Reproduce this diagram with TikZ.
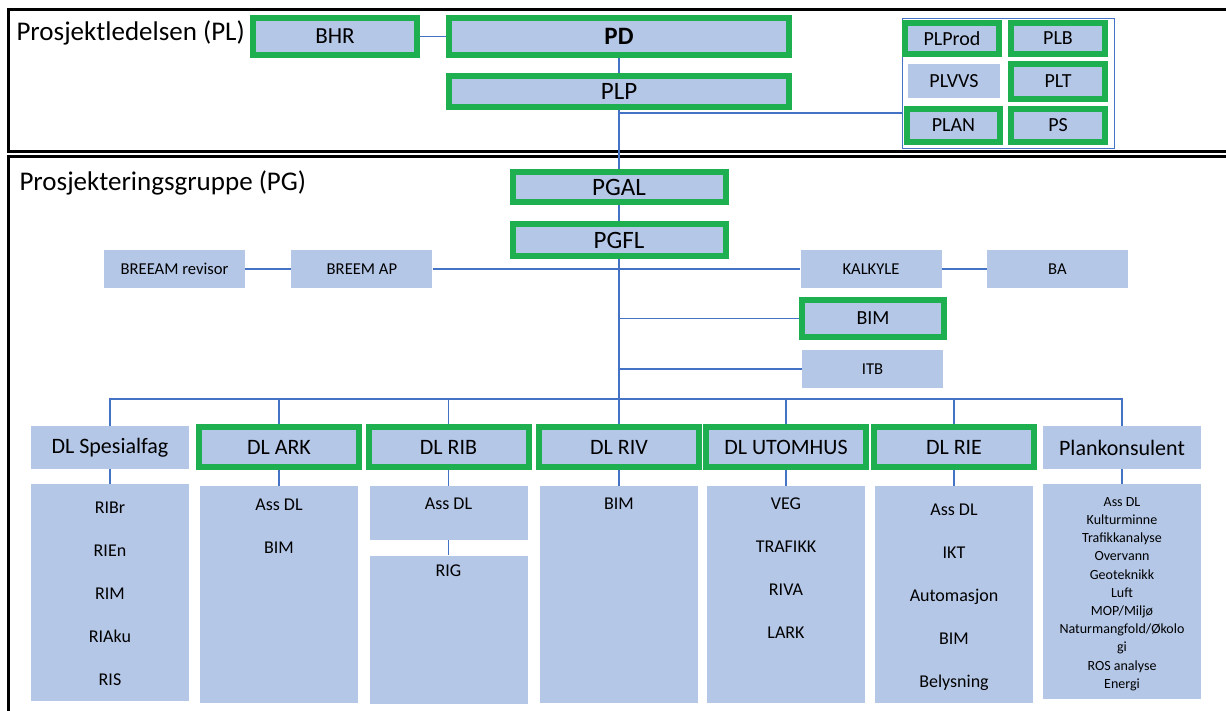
\documentclass[tikz,border=0pt]{standalone}
\usepackage{fontspec}
\setmainfont{Carlito}
\usetikzlibrary{positioning}
\definecolor{boxblue}{RGB}{180,199,231}
\definecolor{leadgreen}{RGB}{30,176,80}
\definecolor{linkblue}{RGB}{68,114,196}

\begin{document}
\begin{tikzpicture}[x=1pt, y=-1pt]
\tikzset{
    unit/.style={rectangle, fill=boxblue, inner sep=0pt, align=center, font=\fontsize{22}{26}\selectfont},
    lead/.style={unit, draw=leadgreen, line width=6pt},
    small/.style={unit, font=\fontsize{16.6}{20}\selectfont, minimum width=141pt, minimum height=38pt},
    tiny/.style={font=\fontsize{20}{24}\selectfont, minimum width=94pt},
    sub/.style={rectangle, fill=boxblue, minimum width=158pt},
    listtxt/.style={align=center, inner sep=0pt, font=\fontsize{18}{43}\selectfont},
    link/.style={draw=linkblue, line width=1.5pt},
    frame/.style={draw=black, line width=3pt},
    group/.style={rectangle, draw=linkblue, line width=1pt}
}
\clip (0,0) rectangle (1226,711);
\fill[white] (0,0) rectangle (1226,711);

% Prosjektledelsen
\draw[frame] (8,10) rectangle (1240,152);
\node[anchor=west, font=\fontsize{27}{32}\selectfont] (pltitle) at (13,33) {Prosjektledelsen (PL)};
\node[lead, minimum width=164pt, minimum height=37pt, font=\fontsize{23}{28}\selectfont] (bhr) at (335,36.5) {BHR};
\node[lead, minimum width=340pt, minimum height=37pt, font=\bfseries\fontsize{25}{30}\selectfont] (pd) at (619,36.5) {PD};
\node[lead, minimum width=340pt, minimum height=31pt, font=\fontsize{25}{30}\selectfont, below=15pt of pd] (plp) {PLP};

\node[group, minimum width=212pt, minimum height=130pt] (grp) at (1008,84) {};
\node[lead, tiny, minimum height=31pt] (plprod) at (952,38.5) {PLProd};
\node[lead, tiny, minimum height=31pt] (plb) at (1058,38.5) {PLB};
\node[unit, tiny, minimum width=92pt, minimum height=34pt] (plvvs) at (954,81) {PLVVS};
\node[lead, tiny, minimum height=35pt] (plt) at (1058,81.5) {PLT};
\node[lead, tiny, minimum width=93pt, minimum height=33pt] (plan) at (953.5,125.5) {PLAN};
\node[lead, tiny, minimum height=33pt] (ps) at (1058,125.5) {PS};

% Prosjekteringsgruppe
\draw[frame] (8,157) rectangle (1240,720);
\node[anchor=west, font=\fontsize{27}{32}\selectfont] (pgtitle) at (16,183) {Prosjekteringsgruppe (PG)};
\node[lead, minimum width=213pt, minimum height=30pt, font=\fontsize{25}{30}\selectfont] (pgal) at (619,187) {PGAL};
\node[lead, minimum width=213pt, minimum height=32pt, font=\fontsize{25}{30}\selectfont, below=16pt of pgal] (pgfl) {PGFL};

\node[small] (brrev) at (174.5,269) {BREEAM revisor};
\node[small, right=46pt of brrev] (brap) {BREEM AP};
\node[small] (kalk) at (871,269) {KALKYLE};
\node[small, right=45pt of kalk] (ba) {BA};
\node[lead, minimum width=142pt, minimum height=37pt, font=\fontsize{20}{24}\selectfont] (bim) at (873,318.5) {BIM};
\node[small] (itb) at (872.5,369) {ITB};

% DL rad
\node[unit, minimum width=158pt, minimum height=43pt] (spes) at (110,447.5) {DL Spesialfag};
\node[lead, minimum width=160pt, minimum height=40pt] (ark) at (279,447) {DL ARK};
\node[lead, minimum width=160pt, minimum height=40pt] (rib) at (448.5,447) {DL RIB};
\node[lead, minimum width=160pt, minimum height=40pt] (riv) at (619,447) {DL RIV};
\node[lead, minimum width=160pt, minimum height=40pt] (utom) at (786,447) {DL UTOMHUS};
\node[lead, minimum width=160pt, minimum height=40pt] (rie) at (954,447) {DL RIE};
\node[unit, minimum width=158pt, minimum height=43pt] (plank) at (1122,447.5) {Plankonsulent};

\node[sub, minimum height=217pt, below=14.5pt of spes] (spessub) {};
\node[sub, minimum height=217pt, below=16pt of ark] (arksub) {};
\node[sub, minimum height=54pt, below=16pt of rib] (ribsub) {};
\node[sub, minimum height=148pt, below=15pt of ribsub] (ribsubb) {};
\node[sub, minimum height=217pt, below=16pt of riv] (rivsub) {};
\node[sub, minimum height=217pt, below=16pt of utom] (utomsub) {};
\node[sub, minimum height=217pt, below=16pt of rie] (riesub) {};
\node[sub, minimum height=215pt, below=14.5pt of plank] (planksub) {};

\node[listtxt, below=18pt of spessub.north] (spestxt) {RIBr\\RIEn\\RIM\\RIAku\\RIS};
\node[listtxt, below=13pt of arksub.north] (arktxt) {Ass DL\\BIM};
\node[listtxt, below=12pt of ribsub.north] (ribtxt) {Ass DL};
\node[listtxt, below=9pt of ribsubb.north] (ribtxtb) {RIG};
\node[listtxt, below=12pt of rivsub.north] (rivtxt) {BIM};
\node[listtxt, below=12pt of utomsub.north] (utomtxt) {VEG\\TRAFIKK\\RIVA\\LARK};
\node[listtxt, below=18pt of riesub.north] (rietxt) {Ass DL\\IKT\\Automasjon\\BIM\\Belysning};
\node[listtxt, font=\fontsize{14}{18.2}\selectfont, below=13.5pt of planksub.north] (planktxt) {Ass DL\\Kulturminne\\Trafikkanalyse\\Overvann\\Geoteknikk\\Luft\\MOP/Miljø\\Naturmangfold/Økolo\\gi\\ROS analyse\\Energi};

% linjer
\coordinate (tap) at (619,113);
\coordinate (bus) at (619,399);
\draw[link] (bhr) -- (pd);
\draw[link] (pd) -- (plp);
\draw[link] (plp) -- (pgal);
\draw[link] (pgal) -- (pgfl);
\draw[link] (pgfl) -- (riv);
\draw[link] (tap) -- (tap -| grp.west);
\draw[link] (brrev) -- (brap);
\draw[link] (brap) -- (kalk);
\draw[link] (kalk) -- (ba);
\draw[link] (bim -| pgfl) -- (bim);
\draw[link] (itb -| pgfl) -- (itb);
\draw[link] (spes) -- (spes |- bus) -- (plank |- bus) -- (plank);
\draw[link] (ark) -- (ark |- bus);
\draw[link] (rib) -- (rib |- bus);
\draw[link] (utom) -- (utom |- bus);
\draw[link] (rie) -- (rie |- bus);
\draw[link] (spes) -- (spessub);
\draw[link] (ark) -- (arksub);
\draw[link] (rib) -- (ribsub);
\draw[link] (ribsub) -- (ribsubb);
\draw[link] (riv) -- (rivsub);
\draw[link] (utom) -- (utomsub);
\draw[link] (rie) -- (riesub);
\draw[link] (plank) -- (planksub);
\end{tikzpicture}
\end{document}
